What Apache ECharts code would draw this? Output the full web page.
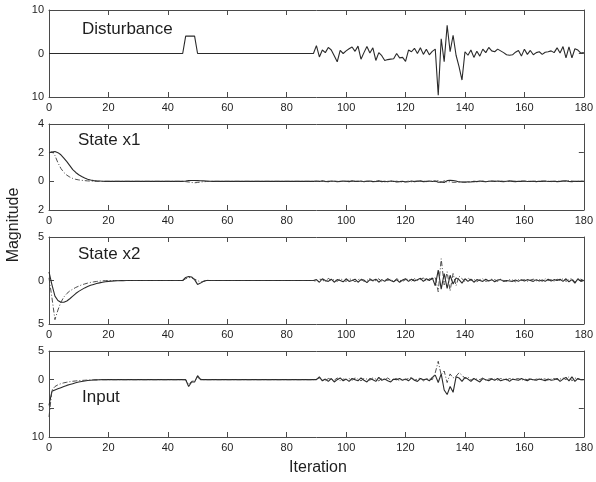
<!DOCTYPE html>
<html><head><meta charset="utf-8">
<script src="https://cdn.jsdelivr.net/npm/echarts@6/dist/echarts.min.js"></script>
<style>html,body{margin:0;padding:0;background:#fff}#c{width:596px;height:482px}</style>
</head><body><div id="c"></div>
<script>
// Iterations 0..180 (one value per iteration)
const xTicks = [0,20,40,60,80,100,120,140,160,180];
const panelTitles = ["Disturbance","State x1","State x2","Input"];
const yMins = [-10,-2,-5,-10];
const yMaxs = [10,4,5,5];
const yIntervals = [10,2,5,5];

const disturbance = [
0,0,0,0,0,0,0,0,0,0,
0,0,0,0,0,0,0,0,0,0,
0,0,0,0,0,0,0,0,0,0,
0,0,0,0,0,0,0,0,0,0,
0,0,0,0,0,0,4,4,4,4,
0,0,0,0,0,0,0,0,0,0,
0,0,0,0,0,0,0,0,0,0,
0,0,0,0,0,0,0,0,0,0,
0,0,0,0,0,0,0,0,0,0,
1.8,-0.8,0.8,0.2,1.4,0.8,-0.5,-1.9,0.7,0.0,
0.6,1.1,1.5,0.5,1.7,-1.3,0.2,1.6,0.1,1.3,
-1.6,0.2,-0.5,-1.6,-1.4,-1.3,-1.2,0.0,-1.0,-0.9,
-1.8,0.8,0.4,1.2,0.0,1.3,-0.2,1.0,-0.3,0.5,
1.0,-9.6,3.4,-1.9,6.5,0.4,4.2,-0.4,-3.0,-6.1,
0.4,-0.4,0.8,-0.9,0.5,-0.6,1.0,0.2,1.4,0.6,
0.4,1.0,0.6,0.2,-0.3,-0.4,-0.3,0.3,0.7,-0.6,
1.0,-0.2,0.7,-0.3,0.2,0.4,-0.2,0.3,0.4,0.6,
0.2,1.3,0.1,1.6,-1.0,1.5,-1.0,1.1,0.8,0.1,0.2];

const x1Solid = [
2.0,2.05,2.08,2.0,1.85,1.62,1.38,1.1,0.82,0.62,
0.46,0.34,0.23,0.15,0.09,0.05,0.03,0.02,0.01,0,
0,0,0,0,0,0,0,0,0,0,
0,0,0,0,0,0,0,0,0,0,
0,0,0,0,0,0,0.02,0.05,0.06,0.06,
0.05,0.04,0.03,0.02,0.01,0,0,0,0,0,
0,0,0,0,0,0,0,0,0,0,
0,0,0,0,0,0,0,0,0,0,
0,0,0,0,0,0,0,0,0,0,
0.02,-0.01,0.03,0,-0.02,0.02,0.01,-0.03,0,0.02,
0.01,-0.02,0.03,0,-0.01,0.02,-0.03,0.01,0.02,-0.02,
0,0.03,-0.02,0.01,-0.03,0.02,0,-0.04,-0.02,0.01,
-0.05,-0.03,0.02,-0.02,0.01,0.03,-0.02,0,0.02,-0.01,
0.03,-0.06,-0.04,-0.08,0.05,0.08,0.06,0.02,-0.04,-0.05,
-0.06,-0.03,-0.05,0.01,-0.02,0.02,0,-0.03,0.01,0.02,
-0.01,0.02,0,-0.02,0.01,0.03,0,-0.02,0.01,0,
0.02,-0.01,0,0.01,-0.02,0.01,0,0.02,-0.01,0,
0.01,-0.02,0,0.02,0.03,0,-0.02,0.01,0,0.01,0];

const x1Dash = [
2.0,2.05,1.8,1.3,0.9,0.62,0.43,0.3,0.2,0.14,
0.1,0.07,0.05,0.03,0.02,0.01,0,0,0,0,
0,0,0,0,0,0,0,0,0,0,
0,0,0,0,0,0,0,0,0,0,
0,0,0,0,0,0,-0.02,-0.05,-0.08,-0.1,
-0.08,-0.05,-0.03,-0.01,0,0,0,0,0,0,
0,0,0,0,0,0,0,0,0,0,
0,0,0,0,0,0,0,0,0,0,
0,0,0,0,0,0,0,0,0,0,
-0.01,0.02,0,-0.02,0.01,-0.01,0.02,0,-0.02,0.01,
0,0.02,-0.01,0.01,0.02,-0.02,0,0.01,-0.01,0.02,
-0.02,0,0.01,-0.03,0,0.02,-0.02,0.01,-0.03,-0.04,
-0.02,0.01,-0.03,0,0.02,-0.01,0.01,-0.02,0,0.02,
-0.02,0.05,-0.1,0.04,-0.06,-0.02,-0.07,-0.06,-0.03,-0.06,
-0.04,-0.07,-0.02,-0.04,0,-0.03,0.01,-0.02,0,0.01,
0.02,-0.01,0.01,0,-0.02,0,0.02,0.01,-0.01,0.02,
0,0.01,-0.02,0,0.01,-0.01,0.02,0,0.01,-0.02,
0,0.01,-0.01,0.02,0,0.03,0.02,-0.01,0,0.01,0];

const x2Solid = [
1.0,-0.5,-1.8,-2.3,-2.5,-2.5,-2.35,-2.1,-1.8,-1.5,
-1.25,-1.05,-0.85,-0.7,-0.55,-0.45,-0.35,-0.27,-0.2,-0.14,
-0.1,-0.07,-0.05,-0.03,-0.02,-0.01,0,0,0,0,
0,0,0,0,0,0,0,0,0,0,
0,0,0,0,0,0,0.35,0.45,0.4,0.1,
-0.45,-0.3,-0.1,0,0,0,0,0,0,0,
0,0,0,0,0,0,0,0,0,0,
0,0,0,0,0,0,0,0,0,0,
0,0,0,0,0,0,0,0,0,0,
0.1,-0.2,0.2,0.0,-0.1,0.15,-0.2,0.1,0.0,-0.15,
0.2,-0.1,0.0,0.15,-0.2,0.1,0.05,-0.25,0.1,0.0,
0.15,-0.2,0.1,-0.1,0.2,0.0,-0.15,0.1,-0.2,0.05,
0.2,-0.1,0.15,-0.05,0.1,0.25,-0.1,0.2,0.0,0.3,
-0.6,1.2,-1.0,0.8,-0.9,0.6,-0.4,0.3,0.1,-0.3,
0.2,-0.1,0.15,-0.2,0.1,0.0,-0.1,0.15,-0.05,0.1,
-0.15,0.05,0.1,-0.1,0.0,-0.05,-0.1,0.05,-0.1,0.1,
-0.05,0.1,0.0,-0.1,0.1,-0.05,0.05,-0.1,0.15,-0.05,
0.1,0.0,0.15,-0.1,0.2,-0.15,0.1,-0.3,0.2,-0.1,0.0];

const x2Dash = [
0.3,-2.0,-4.5,-3.4,-2.5,-1.9,-1.5,-1.2,-1.0,-0.8,
-0.65,-0.5,-0.4,-0.3,-0.22,-0.16,-0.11,-0.07,-0.04,-0.02,
0,0,0,0,0,0,0,0,0,0,
0,0,0,0,0,0,0,0,0,0,
0,0,0,0,0,0,0.2,0.35,0.3,0.15,
0,-0.2,-0.1,0.05,0,0,0,0,0,0,
0,0,0,0,0,0,0,0,0,0,
0,0,0,0,0,0,0,0,0,0,
0,0,0,0,0,0,0,0,0,0,
-0.1,0.15,0.1,-0.2,0.25,0.0,0.1,-0.1,0.2,0.05,
-0.1,0.2,0.1,-0.15,0.1,0.2,-0.1,0.0,0.25,-0.1,
0.0,0.2,-0.15,0.1,0.0,0.15,-0.1,0.2,0.05,-0.1,
0.1,0.15,-0.1,0.2,0.0,0.1,0.3,-0.1,0.2,0.1,
0.4,-1.3,2.5,-0.5,1.0,-1.2,0.8,-0.6,0.5,0.2,
-0.1,0.3,0.0,0.15,-0.15,0.1,0.2,-0.1,0.0,0.15,
0.1,-0.1,0.15,0.0,-0.1,0.1,0.05,-0.15,0.1,0.0,
0.1,-0.1,0.05,0.15,-0.05,0.1,-0.1,0.2,0.0,0.1,
-0.1,0.15,0.0,0.2,-0.1,0.1,0.25,-0.2,0.1,0.15,0.0];

const inputSolid = [
-4.5,-2.0,-1.8,-1.6,-1.4,-1.2,-1.0,-0.85,-0.7,-0.55,
-0.42,-0.32,-0.22,-0.15,-0.1,-0.06,-0.03,-0.01,0,0,
0,0,0,0,0,0,0,0,0,0,
0,0,0,0,0,0,0,0,0,0,
0,0,0,0,0,0,0,-1.2,-0.4,-0.4,
0.7,0,0,0,0,0,0,0,0,0,
0,0,0,0,0,0,0,0,0,0,
0,0,0,0,0,0,0,0,0,0,
0,0,0,0,0,0,0,0,0,0,
0.0,0.5,-0.2,0.1,-0.3,0.2,-0.4,0.0,0.3,-0.2,
0.1,-0.3,0.2,0.0,-0.2,0.3,-0.1,-0.4,0.2,0.0,
-0.3,0.4,-0.1,0.1,-0.2,-0.4,0.1,0.0,0.2,-0.1,
0.1,-0.2,0.3,-0.1,-0.3,0.2,0.0,0.1,-0.2,0.4,
0.8,-0.5,1.0,-1.8,-2.6,-1.2,-2.2,0.5,0.3,-0.3,
0.4,0.1,-0.3,0.2,-0.1,-0.4,0.2,0.0,-0.2,0.1,
-0.1,0.2,-0.2,0.0,0.1,-0.3,0.1,0.0,-0.1,0.2,
0.0,-0.2,0.1,0.0,-0.1,0.1,0.0,-0.2,0.1,-0.1,
0.0,0.2,-0.3,0.1,0.4,-0.2,0.5,-0.3,0.2,0.0,0.0];

const inputDash = [
-6.5,-1.8,-1.2,-0.9,-0.7,-0.55,-0.45,-0.35,-0.28,-0.22,
-0.17,-0.13,-0.1,-0.07,-0.05,-0.03,-0.02,-0.01,0,0,
0,0,0,0,0,0,0,0,0,0,
0,0,0,0,0,0,0,0,0,0,
0,0,0,0,0,0,0,-0.8,-0.3,-0.2,
0.4,0.1,0,0,0,0,0,0,0,0,
0,0,0,0,0,0,0,0,0,0,
0,0,0,0,0,0,0,0,0,0,
0,0,0,0,0,0,0,0,0,0,
0.1,0.3,0.0,-0.2,0.2,0.1,-0.1,0.3,-0.2,0.1,
0.0,0.2,-0.1,0.3,0.1,-0.2,0.2,0.1,-0.1,0.3,
0.1,-0.2,0.2,0.0,0.3,-0.1,0.1,0.2,-0.2,0.1,
0.0,0.2,0.4,-0.1,0.1,0.3,-0.2,0.2,0.1,0.0,
1.2,3.2,0.8,1.5,-0.5,1.0,0.3,0.6,1.2,0.8,
0.2,0.5,-0.1,0.2,0.1,0.0,0.3,-0.1,0.1,0.2,
0.1,-0.1,0.2,0.1,-0.1,0.2,0.0,0.1,0.2,-0.1,
0.1,0.0,0.2,-0.1,0.1,0.0,0.2,0.1,-0.1,0.1,
0.2,0.0,0.1,0.3,0.0,0.5,-0.2,0.3,0.1,0.0,0.0];

const panels = [
  [{d: disturbance, dash: false}],
  [{d: x1Solid, dash: false}, {d: x1Dash, dash: true}],
  [{d: x2Solid, dash: false}, {d: x2Dash, dash: true}],
  [{d: inputSolid, dash: false}, {d: inputDash, dash: true}]
];

const gridTops = [10, 124, 237, 351];
const gridHeights = [87, 86, 87, 86];
const titleY = [31, 142, 256, 399];
const titleX = [82, 78, 78, 82];
const FONT = '"Liberation Sans", Arial, Helvetica, sans-serif';
const axisCol = '#4a4a4a';
const txtCol = '#1e1e1e';

const grid = [], xAxis = [], yAxis = [], series = [], graphic = [];
gridTops.forEach((t, i) => {
  grid.push({left: 49, right: 9, top: t, height: gridHeights[i], show: false});
  const common = {type: 'value', min: 0, max: 180, interval: 20, gridIndex: i,
    splitLine: {show: false},
    axisLine: {show: true, onZero: false, lineStyle: {color: axisCol, width: 1}},
    axisTick: {show: true, inside: true, length: 5, lineStyle: {color: axisCol}}};
  xAxis.push(Object.assign({}, common, {position: 'bottom',
    axisLabel: {show: true, margin: 5, fontSize: 11, color: txtCol, fontFamily: FONT}}));
  xAxis.push(Object.assign({}, common, {position: 'top', axisLabel: {show: false}}));
  const yc = {type: 'value', min: yMins[i], max: yMaxs[i], interval: yIntervals[i], gridIndex: i,
    splitLine: {show: false},
    axisLine: {show: true, onZero: false, lineStyle: {color: axisCol, width: 1}},
    axisTick: {show: true, inside: true, length: 5, lineStyle: {color: axisCol}}};
  yAxis.push(Object.assign({}, yc, {position: 'left',
    axisLabel: {show: true, margin: 5, fontSize: 11, color: txtCol, fontFamily: FONT,
      formatter: v => String(Math.abs(v))}}));
  yAxis.push(Object.assign({}, yc, {position: 'right', axisLabel: {show: false}}));
  panels[i].forEach(s => {
    series.push({type: 'line', xAxisIndex: 2 * i, yAxisIndex: 2 * i, showSymbol: false,
      silent: true, animation: false,
      data: s.d.map((v, k) => [k, v]),
      lineStyle: {color: s.dash ? '#3a3a3a' : '#2a2a2a', width: s.dash ? 0.9 : 1.1,
        type: s.dash ? [5, 2, 1, 2] : 'solid'}});
  });
  graphic.push({type: 'text', left: titleX[i], top: titleY[i] - 10,
    style: {text: panelTitles[i], font: '17px ' + FONT, fill: txtCol}});
});
graphic.push({type: 'text', x: 6, y: 225, rotation: Math.PI / 2,
  style: {text: 'Magnitude', font: '16px ' + FONT, fill: txtCol, textAlign: 'center', textVerticalAlign: 'top'}});
graphic.push({type: 'text', x: 318, y: 468,
  style: {text: 'Iteration', font: '16px ' + FONT, fill: txtCol, textAlign: 'center', textVerticalAlign: 'middle'}});

const chart = echarts.init(document.getElementById('c'), null, {renderer: 'canvas'});
chart.setOption({animation: false, backgroundColor: '#fff', grid, xAxis, yAxis, series, graphic});
</script></body></html>
